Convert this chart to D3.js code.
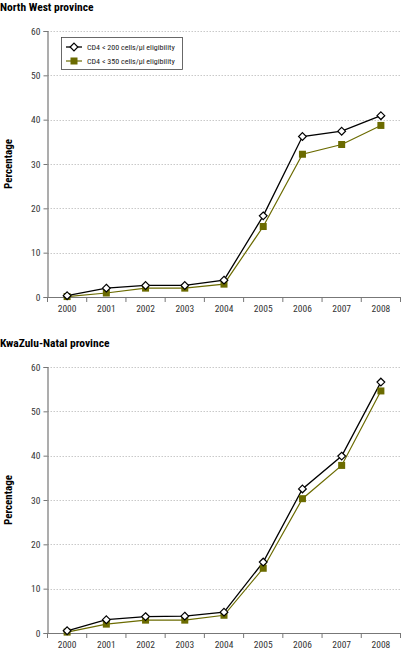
<!DOCTYPE html>
<html><head><meta charset="utf-8">
<script src="https://cdn.jsdelivr.net/npm/d3@7"></script>
<style>
body{margin:0;background:#fff;}
svg{display:block;}
text{font-family:"Liberation Sans Narrow","Roboto Condensed","Arial Narrow","Liberation Sans",sans-serif;}
</style></head><body>
<svg id="c" width="403" height="650"></svg>
<script>
const years = ["2000","2001","2002","2003","2004","2005","2006","2007","2008"];
const yTicks = [0,10,20,30,40,50,60];
const titles = ["North West province","KwaZulu-Natal province"];
const seriesNames = ["CD4 < 200 cells/μl eligibility","CD4 < 350 cells/μl eligibility"];
const nwCD4_200 = [0.3,2.0,2.6,2.6,3.8,18.3,36.2,37.4,40.9];
const nwCD4_350 = [0.1,0.9,2.0,2.0,2.9,15.9,32.2,34.4,38.7];
const kznCD4_200 = [0.5,3.0,3.7,3.8,4.7,16.0,32.5,39.9,56.6];
const kznCD4_350 = [0.2,2.0,2.9,2.9,4.0,14.6,30.3,37.8,54.6];

const olive = "#6b6b00";
const svg = d3.select("#c");

function panel(top, title, s200, s350, showLegend){
  const x0 = 47.5, x1 = 400.5, yTop = top + 31, yBot = top + 297;
  const g = svg.append("g");
  const x = d3.scaleBand().domain(years).range([x0, x1]);
  const y = d3.scaleLinear().domain([0,60]).range([yBot, yTop]);

  g.append("text").attr("x",0).attr("y",top+11).attr("font-size",11.5)
   .attr("font-weight","bold").attr("fill","#000").text(title);

  // gridlines
  g.append("g").selectAll("line").data(yTicks.filter(d=>d>0)).join("line")
   .attr("x1",x0).attr("x2",x1).attr("y1",d=>Math.round(y(d))+0.5).attr("y2",d=>Math.round(y(d))+0.5)
   .attr("stroke","#bbb").attr("stroke-width",0.8).attr("stroke-dasharray","1.5,1.5");

  // y axis
  const ya = g.append("g").attr("transform",`translate(${x0},0)`)
   .call(d3.axisLeft(y).tickValues(yTicks).tickSize(4).tickPadding(3).tickFormat(d3.format("d")));
  ya.select(".domain").attr("stroke","#777").attr("stroke-width",1.2);
  ya.selectAll(".tick line").attr("stroke","#777");
  ya.selectAll("text").attr("font-size",9.5).attr("fill","#333");

  // x axis
  const xa = g.append("g").attr("transform",`translate(0,${yBot})`)
   .call(d3.axisBottom(x).tickSize(0).tickPadding(8));
  xa.select(".domain").attr("stroke","#777").attr("stroke-width",1.2);
  xa.selectAll("text").attr("font-size",9.5).attr("fill","#333");
  g.append("g").selectAll("line").data(years.concat(["end"])).join("line")
   .attr("x1",(d,i)=>x0+i*x.bandwidth()).attr("x2",(d,i)=>x0+i*x.bandwidth())
   .attr("y1",yBot).attr("y2",yBot+5).attr("stroke","#777").attr("stroke-width",1);

  // y label
  g.append("text").attr("transform",`translate(12,${(yTop+yBot)/2}) rotate(-90)`)
   .attr("text-anchor","middle").attr("font-size",11).attr("font-weight","bold").text("Percentage");

  const line = d3.line().x((d,i)=>x(years[i])+x.bandwidth()/2).y(d=>y(d));
  g.append("path").datum(s350).attr("d",line).attr("fill","none").attr("stroke",olive).attr("stroke-width",1.2);
  g.append("path").datum(s200).attr("d",line).attr("fill","none").attr("stroke","#000").attr("stroke-width",1.3);

  g.append("g").selectAll("rect").data(s350).join("rect")
   .attr("x",(d,i)=>x(years[i])+x.bandwidth()/2-3.5).attr("y",d=>y(d)-3.5)
   .attr("width",7).attr("height",7).attr("fill",olive);
  const dia = d3.symbol().type(d3.symbolDiamond2).size(38);
  g.append("g").selectAll("path").data(s200).join("path")
   .attr("transform",(d,i)=>`translate(${x(years[i])+x.bandwidth()/2},${y(d)})`)
   .attr("d",dia).attr("fill","#fff").attr("stroke","#000").attr("stroke-width",1.2);

  if(showLegend){
    const lg = g.append("g");
    lg.append("rect").attr("x",61.5).attr("y",top+37.5).attr("width",121).attr("height",32)
      .attr("fill","#fff").attr("stroke","#444").attr("stroke-width",0.8);
    const rows = [top+47, top+61];
    lg.append("line").attr("x1",66).attr("x2",82).attr("y1",rows[0]).attr("y2",rows[0]).attr("stroke","#000").attr("stroke-width",1.3);
    lg.append("path").attr("transform",`translate(74,${rows[0]})`).attr("d",dia).attr("fill","#fff").attr("stroke","#000").attr("stroke-width",1.2);
    lg.append("line").attr("x1",66).attr("x2",82).attr("y1",rows[1]).attr("y2",rows[1]).attr("stroke",olive).attr("stroke-width",1.2);
    lg.append("rect").attr("x",70.5).attr("y",rows[1]-3.5).attr("width",7).attr("height",7).attr("fill",olive);
    lg.selectAll("text.l").data(seriesNames).join("text").attr("class","l")
      .attr("x",87).attr("y",(d,i)=>rows[i]+3).attr("font-size",8).attr("fill","#222").text(d=>d);
  }
}
panel(0, titles[0], nwCD4_200, nwCD4_350, true);
panel(336, titles[1], kznCD4_200, kznCD4_350, false);
</script>
</body></html>
